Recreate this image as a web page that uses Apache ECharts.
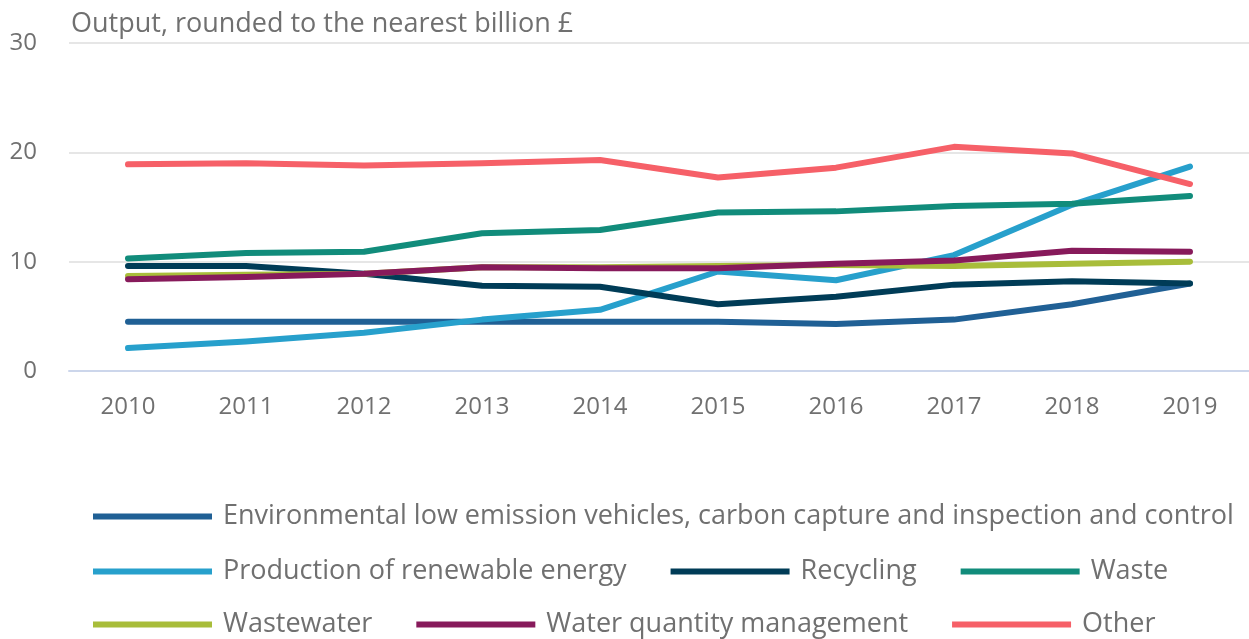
<!DOCTYPE html>
<html>
<head>
<meta charset="utf-8">
<script src="https://cdn.jsdelivr.net/npm/echarts@6/dist/echarts.min.js"></script>
<style>
html,body{margin:0;padding:0;background:#fff;}
#chart{width:1249px;height:639px;}
</style>
</head>
<body>
<div id="chart"></div>
<script>
const years = ['2010','2011','2012','2013','2014','2015','2016','2017','2018','2019'];
const seriesNames = [
  'Environmental low emission vehicles, carbon capture and inspection and control',
  'Production of renewable energy',
  'Recycling',
  'Waste',
  'Wastewater',
  'Water quantity management',
  'Other'
];
const envLowEmission = [4.5, 4.5, 4.5, 4.5, 4.5, 4.5, 4.3, 4.7, 6.1, 8.0];
const renewable      = [2.1, 2.7, 3.5, 4.7, 5.6, 9.1, 8.3, 10.6, 15.2, 18.7];
const recycling      = [9.6, 9.6, 8.9, 7.8, 7.7, 6.1, 6.8, 7.9, 8.2, 8.0];
const waste          = [10.3, 10.8, 10.9, 12.6, 12.9, 14.5, 14.6, 15.1, 15.3, 16.0];
const wastewater     = [8.7, 8.8, 8.9, 9.5, 9.5, 9.6, 9.7, 9.6, 9.8, 10.0];
const waterQuantity  = [8.4, 8.6, 8.9, 9.5, 9.4, 9.4, 9.8, 10.1, 11.0, 10.9];
const other          = [18.9, 19.0, 18.8, 19.0, 19.3, 17.7, 18.6, 20.5, 19.9, 17.1];
const yTicks = [0, 10, 20, 30];

const colors = ['#206095', '#27a0cc', '#003c57', '#118c7b', '#a8bd3a', '#871a5b', '#f66068'];
const allData = [envLowEmission, renewable, recycling, waste, wastewater, waterQuantity, other];

const font = '"Open Sans", "Noto Sans", sans-serif';
const textColor = '#707070';

function legendRow(names, top) {
  return {
    data: names,
    left: 88,
    top: top,
    orient: 'horizontal',
    icon: 'rect',
    itemWidth: 119,
    itemHeight: 6,
    itemGap: 44,
    selectedMode: false,
    textStyle: { fontFamily: font, fontSize: 27, color: textColor, padding: [0, 0, 0, 6] }
  };
}

const chart = echarts.init(document.getElementById('chart'), null, { renderer: 'canvas' });
chart.setOption({
  animation: false,
  color: colors,
  title: {
    text: 'Output, rounded to the nearest billion £',
    left: 66,
    top: 6,
    textStyle: { fontFamily: font, fontSize: 27, fontWeight: 'normal', color: textColor }
  },
  grid: { left: 69, top: 43, width: 1184, height: 328, containLabel: false },
  legend: [
    legendRow([seriesNames[0]], 498),
    legendRow([seriesNames[1], seriesNames[2], seriesNames[3]], 553),
    legendRow([seriesNames[4], seriesNames[5], seriesNames[6]], 606)
  ],
  xAxis: {
    type: 'category',
    data: years,
    boundaryGap: true,
    axisLine: { lineStyle: { color: '#ccd6eb', width: 2 } },
    axisTick: { alignWithLabel: true, length: 18, lineStyle: { color: '#ccd6eb', width: 2 } },
    axisLabel: { margin: 24, fontFamily: font, fontSize: 24, color: textColor }
  },
  yAxis: {
    type: 'value',
    min: yTicks[0],
    max: yTicks[yTicks.length - 1],
    interval: 10,
    axisLine: { show: false },
    axisTick: { show: false },
    axisLabel: { margin: 32, fontFamily: font, fontSize: 24, color: textColor },
    splitLine: { lineStyle: { color: '#e6e6e6', width: 2 } }
  },
  series: seriesNames.map((name, i) => ({
    name: name,
    type: 'line',
    data: allData[i],
    showSymbol: false,
    symbol: 'none',
    lineStyle: { width: 6, color: colors[i], cap: 'round', join: 'round' },
    itemStyle: { color: colors[i] },
    emphasis: { disabled: true }
  }))
});
</script>
</body>
</html>
